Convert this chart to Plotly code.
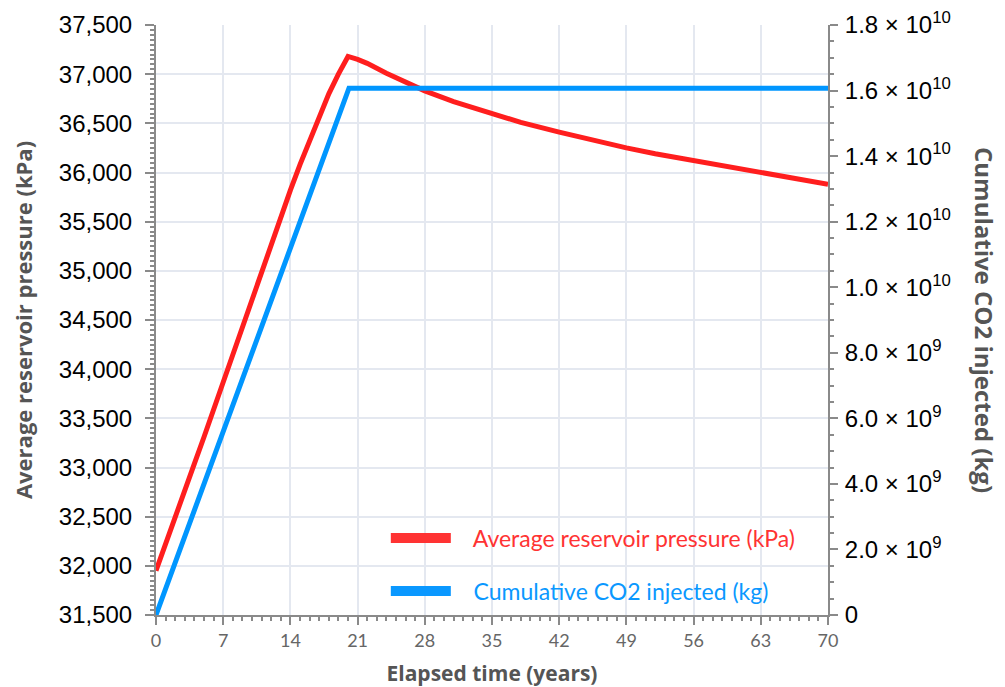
import plotly.graph_objects as go

# ---- data ----
years_p = [0, 1, 2, 3, 4, 5, 6, 7, 8, 9, 10, 11, 12, 13, 14, 15, 16, 17, 18, 19, 20,
           21, 22, 24, 26, 28, 31, 35, 38, 42, 45, 49, 52, 56, 60, 63, 66, 70]
pressure_kpa = [31950, 32230, 32500, 32780, 33040, 33310, 33590, 33860, 34130, 34440, 34700,
                34980, 35250, 35540, 35820, 36080, 36330, 36560, 36800, 37000, 37180,
                37150, 37110, 37010, 36920, 36830, 36720, 36600, 36510, 36410, 36340,
                36250, 36190, 36120, 36050, 36000, 35945, 35880]

years_c = [0, 5, 10, 15, 20.1, 70]
co2_kg = [0, 0.40e10, 0.80e10, 1.205e10, 1.607e10, 1.607e10]

y2_tickvals = [0, 2e9, 4e9, 6e9, 8e9, 1.0e10, 1.2e10, 1.4e10, 1.6e10, 1.8e10]
y2_ticktext = ["0", "2.0 × 10<sup>9</sup>", "4.0 × 10<sup>9</sup>", "6.0 × 10<sup>9</sup>",
               "8.0 × 10<sup>9</sup>", "1.0 × 10<sup>10</sup>", "1.2 × 10<sup>10</sup>",
               "1.4 × 10<sup>10</sup>", "1.6 × 10<sup>10</sup>", "1.8 × 10<sup>10</sup>"]

name_p = "Average reservoir pressure (kPa)"
name_c = "Cumulative CO2 injected (kg)"

RED = "#FF1E1E"
BLUE = "#0096FF"
GRID = "#E4E8F0"
AXIS = "#8A8A8A"
TITLE_FONT = "Open Sans"

fig = go.Figure()
fig.add_trace(go.Scatter(x=years_c, y=co2_kg, yaxis="y2", mode="lines",
                         line=dict(color=BLUE, width=5), showlegend=False, name=name_c))
fig.add_trace(go.Scatter(x=years_p, y=pressure_kpa, mode="lines",
                         line=dict(color=RED, width=5), showlegend=False, name=name_p))
# legend entries
fig.add_trace(go.Scatter(x=[None], y=[None], mode="lines", line=dict(color="#FF3333", width=10),
                         name=f"&nbsp;&nbsp;&nbsp;<span style='color:#FF3333'>{name_p}</span>", legendgroup="a"))
fig.add_trace(go.Scatter(x=[None], y=[None], mode="lines", line=dict(color="#0A98FF", width=10),
                         name=f"&nbsp;&nbsp;&nbsp;<span style='color:#0A98FF'>{name_c}</span>", legendgroup="b"))

fig.update_layout(
    width=997, height=679,
    margin=dict(l=148, r=177, t=17, b=72),
    paper_bgcolor="white", plot_bgcolor="white",
    xaxis=dict(range=[0, 70], tickvals=list(range(0, 71, 7)), showgrid=True, gridcolor=GRID, gridwidth=1.5,
               zeroline=False, showline=True, linecolor=AXIS, linewidth=2, automargin=False,
               ticks="outside", ticklen=8, tickwidth=2, tickcolor=AXIS,
               minor=dict(dtick=1, ticks="outside", ticklen=4, tickcolor=AXIS, showgrid=False),
               tickfont=dict(family="Lato", size=18, color="#666666"),
               title=dict(text="<b>Elapsed time (years)</b>", font=dict(family=TITLE_FONT, size=21, color="#555555"),
                          standoff=18)),
    yaxis=dict(range=[31500, 37500], dtick=500, tickformat=",", showgrid=True, gridcolor=GRID, gridwidth=1.5,
               zeroline=False, showline=True, linecolor=AXIS, linewidth=2, automargin=False,
               ticks="outside", ticklen=9, tickwidth=2, tickcolor=AXIS,
               minor=dict(dtick=50, ticks="outside", ticklen=4, tickcolor=AXIS, showgrid=False),
               tickfont=dict(family="Liberation Sans", size=24, color="black"),
               ticklabelstandoff=8,
               title=dict(text="<b>Average reservoir pressure (kPa)</b>",
                          font=dict(family=TITLE_FONT, size=22, color="#555555"), standoff=26)),
    yaxis2=dict(range=[0, 1.8e10], overlaying="y", side="right", tickvals=y2_tickvals, ticktext=y2_ticktext,
                showgrid=False, zeroline=False, showline=True, linecolor=AXIS, linewidth=2, automargin=False,
                ticks="outside", ticklen=8, tickwidth=2, tickcolor=AXIS,
                minor=dict(dtick=5e8, ticks="outside", ticklen=4, tickcolor=AXIS, showgrid=False),
                tickfont=dict(family="Liberation Sans", size=24, color="black"), ticklabelstandoff=2),
    legend=dict(x=0.342, y=0.004, xanchor="left", yanchor="bottom", bgcolor="rgba(0,0,0,0)",
                font=dict(family="Lato", size=23), traceorder="grouped", tracegroupgap=20,
                itemwidth=60),
    annotations=[dict(text="<b>Cumulative CO2 injected (kg)</b>", textangle=90, xref="paper", yref="paper",
                      x=1.0, xanchor="center", yanchor="middle", xshift=157, y=0.5, showarrow=False,
                      font=dict(family=TITLE_FONT, size=24, color="#555555"))],
)

fig.write_html("out.html")
